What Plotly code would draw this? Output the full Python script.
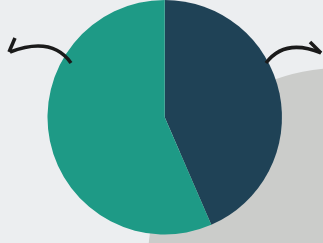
import plotly.graph_objects as go

# Data
labels = ["Dark", "Teal"]
values = [43.5, 56.5]
colors = ["#1f4256", "#1e9a86"]

W, H = 323, 243

def px(x, y):
    return x / W, 1 - y / H

def path(points):
    parts = []
    for c, pts in points:
        coords = " ".join(f"{px(x, y)[0]:.4f},{px(x, y)[1]:.4f}" for x, y in pts)
        parts.append(f"{c} {coords}")
    return " ".join(parts)

fig = go.Figure(go.Pie(
    labels=labels, values=values, sort=False, direction="clockwise", rotation=0,
    marker=dict(colors=colors, line=dict(width=0)),
    textinfo="none", hoverinfo="label+percent",
    domain=dict(x=[0.14, 0.88], y=[0.035, 1.0]),
))

shapes = []
# gray blob behind
cx, cy, r = 340, 260, 192
x0, y1 = px(cx - r, cy - r)
x1, y0 = px(cx + r, cy + r)
shapes.append(dict(type="circle", xref="paper", yref="paper", x0=x0, x1=x1, y0=y0, y1=y1,
                   fillcolor="#cbccca", line=dict(width=0), layer="below"))
arrow_line = dict(color="#1a1a1a", width=3.5)
# left arrow
shapes.append(dict(type="path", xref="paper", yref="paper", layer="above", line=arrow_line,
                   path=path([("M", [(71, 63)]), ("Q", [(52, 36), (10, 52)])])))
shapes.append(dict(type="path", xref="paper", yref="paper", layer="above", line=arrow_line,
                   path=path([("M", [(15, 38)]), ("L", [(9, 52), (26, 57)])])))
# right arrow
shapes.append(dict(type="path", xref="paper", yref="paper", layer="above", line=arrow_line,
                   path=path([("M", [(266, 63)]), ("Q", [(285, 38), (321, 53)])])))
shapes.append(dict(type="path", xref="paper", yref="paper", layer="above", line=arrow_line,
                   path=path([("M", [(310, 42)]), ("L", [(321, 53), (309, 59)])])))

fig.update_layout(
    width=W, height=H, margin=dict(l=0, r=0, t=0, b=0),
    paper_bgcolor="#eceef0", plot_bgcolor="#eceef0",
    showlegend=False, shapes=shapes,
)

fig.write_html("out.html", config={"displayModeBar": False},
               post_script="document.body.style.margin='0';")
